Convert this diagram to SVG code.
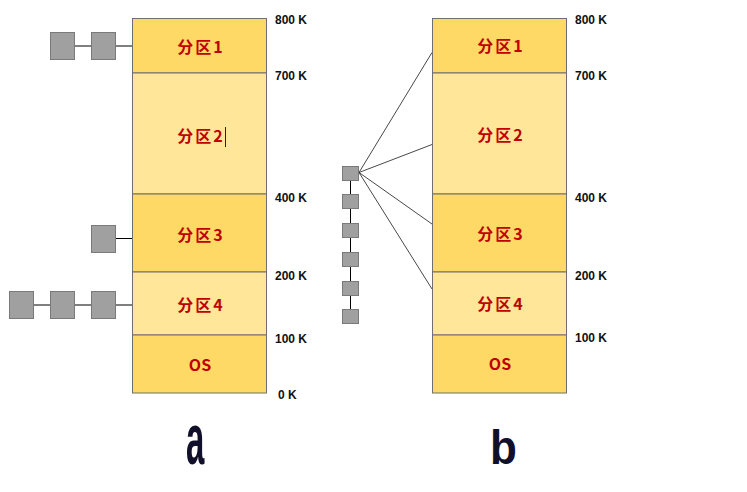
<svg xmlns="http://www.w3.org/2000/svg" width="747" height="492" viewBox="0 0 747 492">
<style>
.dark{fill:#FFD966;stroke:#6F6F6F;stroke-width:1}
.light{fill:#FFE699;stroke:#6F6F6F;stroke-width:1}
.lbl{font-family:"Noto Sans CJK SC","Liberation Sans",sans-serif;font-weight:bold;font-size:16px;fill:#C00000;text-anchor:middle;letter-spacing:2px}
.addr{font-family:"Liberation Sans",Arial,sans-serif;font-weight:bold;font-size:12px;fill:#111}
.sq{fill:#A0A0A0;stroke:#7A7A7A;stroke-width:1}
.ln{stroke:#000;stroke-width:1;fill:none}
.thin{stroke:#333;stroke-width:0.9;fill:none}
.big{font-family:"Liberation Sans",Arial,sans-serif;font-weight:bold;fill:#10102A}
</style>
<rect width="747" height="492" fill="#fff"/>
<g id="connectors">
<line class="ln" x1="74" y1="46" x2="91" y2="46"/>
<line class="ln" x1="116" y1="46" x2="132" y2="46"/>
<line class="ln" x1="116" y1="238.5" x2="132" y2="238.5"/>
<line class="ln" x1="34" y1="305" x2="50" y2="305"/>
<line class="ln" x1="75" y1="305" x2="91" y2="305"/>
<line class="ln" x1="116" y1="305" x2="132" y2="305"/>
<line class="ln" x1="350.5" y1="173" x2="350.5" y2="316"/>
<line class="thin" x1="359" y1="172.5" x2="432" y2="52.5"/>
<line class="thin" x1="359" y1="172.5" x2="432" y2="144.5"/>
<line class="thin" x1="359" y1="172.5" x2="432" y2="224"/>
<line class="thin" x1="359" y1="172.5" x2="432" y2="289"/>
</g>
<g id="mem-a">
<rect class="dark" x="132.5" y="18.5" width="134" height="54.5"/>
<rect class="light" x="132.5" y="73" width="134" height="121"/>
<rect class="dark" x="132.5" y="194" width="134" height="78"/>
<rect class="light" x="132.5" y="272" width="134" height="63"/>
<rect class="dark" x="132.5" y="335" width="134" height="58"/>
<text class="lbl" x="201" y="53">分区1</text>
<text class="lbl" x="201" y="141.5">分区2</text>
<line x1="225.5" y1="127" x2="225.5" y2="147" stroke="#222" stroke-width="1"/>
<text class="lbl" x="201" y="241">分区3</text>
<text class="lbl" x="201" y="310.5">分区4</text>
<text class="lbl" x="200" y="371" style="letter-spacing:0">OS</text>
<text class="addr" x="275" y="24">800 K</text>
<text class="addr" x="275" y="80">700 K</text>
<text class="addr" x="275" y="202">400 K</text>
<text class="addr" x="275" y="280">200 K</text>
<text class="addr" x="275" y="343">100 K</text>
<text class="addr" x="278" y="399">0 K</text>
</g>
<g id="queue-a">
<rect class="sq" x="50.5" y="32.5" width="24" height="27"/>
<rect class="sq" x="91.5" y="32.5" width="24" height="27"/>
<rect class="sq" x="91.5" y="225.5" width="24" height="27"/>
<rect class="sq" x="9.5" y="291.5" width="24" height="27"/>
<rect class="sq" x="50.5" y="291.5" width="24" height="27"/>
<rect class="sq" x="91.5" y="291.5" width="24" height="27"/>
</g>
<g id="mem-b">
<rect class="dark" x="432.5" y="18.5" width="134" height="54.5"/>
<rect class="light" x="432.5" y="73" width="134" height="121"/>
<rect class="dark" x="432.5" y="194" width="134" height="78"/>
<rect class="light" x="432.5" y="272" width="134" height="63"/>
<rect class="dark" x="432.5" y="335" width="134" height="58"/>
<text class="lbl" x="501" y="52">分区1</text>
<text class="lbl" x="501" y="140.5">分区2</text>
<text class="lbl" x="501" y="240">分区3</text>
<text class="lbl" x="501" y="310">分区4</text>
<text class="lbl" x="500" y="370" style="letter-spacing:0">OS</text>
<text class="addr" x="575" y="24">800 K</text>
<text class="addr" x="575" y="80">700 K</text>
<text class="addr" x="575" y="202">400 K</text>
<text class="addr" x="575" y="280">200 K</text>
<text class="addr" x="575" y="342">100 K</text>
</g>
<g id="queue-b">
<rect class="sq" x="342.5" y="166.5" width="16" height="14"/>
<rect class="sq" x="342.5" y="194.5" width="16" height="14"/>
<rect class="sq" x="342.5" y="223.5" width="16" height="14"/>
<rect class="sq" x="342.5" y="252.5" width="16" height="14"/>
<rect class="sq" x="342.5" y="281.5" width="16" height="14"/>
<rect class="sq" x="342.5" y="309.5" width="16" height="14"/>
</g>
<g id="captions">
<text class="big" transform="translate(186,464) scale(1,2.2)" font-size="33">a</text>
<text class="big" transform="translate(490,464) scale(1,1.1)" font-size="44">b</text>
</g>
</svg>
